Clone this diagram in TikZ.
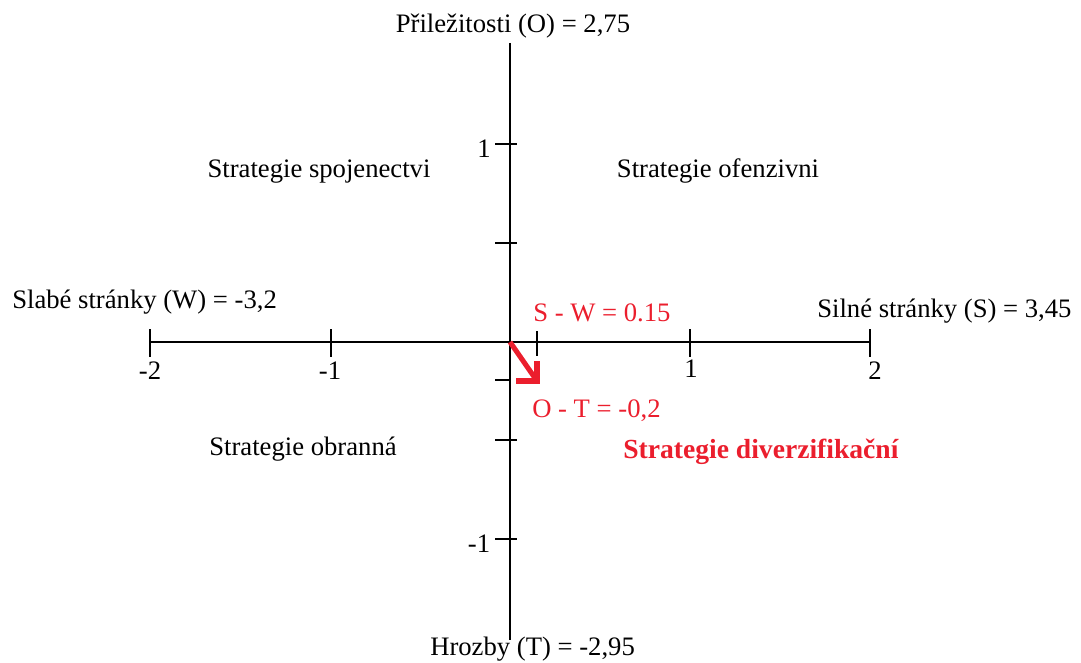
\documentclass[tikz,border=0pt]{standalone}
\usepackage{fontspec}
\setmainfont{Liberation Serif}
\definecolor{swotred}{RGB}{235,30,45}
\begin{document}
\begin{tikzpicture}[x=0.75pt,y=-0.75pt,
  axis/.style={line width=1.2pt, black},
  tickmark/.style={line width=1.2pt, black},
  lbl/.style={font=\fontsize{20}{24}\selectfont, inner sep=0pt, anchor=base},
  lblw/.style={lbl, anchor=base west},
  redlbl/.style={lblw, text=swotred},
  redbold/.style={lblw, text=swotred, font=\fontsize{20.7}{24}\selectfont\bfseries},
  redarrow/.style={line width=3.8pt, swotred, line join=miter}
]
\useasboundingbox (0,0) rectangle (1081,663);
% axes
\coordinate (O) at (510,342);
\coordinate (L) at (150,342);
\coordinate (R) at (870,342);
\coordinate (T) at (510,43);
\coordinate (B) at (510,640);
\draw[axis] (L) -- (R);
\draw[axis] (T) -- (B);
% x ticks
\foreach \x in {150,331,690,870}{
  \draw[tickmark] (\x,329) -- (\x,357);
}
% y ticks
\foreach \y in {144,243,440,539}{
  \draw[tickmark] (495,\y) -- (517,\y);
}
% markers for S-W and O-T
\draw[tickmark] (537,331) -- (537,356);
\draw[tickmark] (495,380) -- (510,380);
% red arrow
\coordinate (tip) at (537,381);
\coordinate (ah1) at (516,381);
\coordinate (ah2) at (537,361);
\draw[redarrow] (O) -- (tip);
\draw[redarrow] (ah1) -- (tip) -- (ah2);
% labels
\node[lbl] (olbl) at (513,33) {Přiležitosti (O) = 2,75};
\node[lbl] (q2) at (319,178) {Strategie spojenectvi};
\node[lbl] (q1) at (718,178) {Strategie ofenzivni};
\node[lblw] (wlbl) at (12,308) {Slabé stránky (W) = -3,2};
\node[lblw] (slbl) at (817,317) {Silné stránky (S) = 3,45};
\node[redlbl] (sw) at (533,321) {S - W = 0.15};
\node[lbl] (xm2) at (150,379) {-2};
\node[lbl] (xm1) at (330,379) {-1};
\node[lbl] (xp1) at (691,377) {1};
\node[lbl] (xp2) at (875,379) {2};
\node[redlbl] (ot) at (532,417) {O - T = -0,2};
\node[lbl] (q3) at (303,455) {Strategie obranná};
\node[redbold] (q4) at (623,458) {Strategie diverzifikační};
\node[lbl] (yp1) at (484,157) {1};
\node[lbl] (ym1) at (479,552) {-1};
\node[lblw] (tlbl) at (430,655) {Hrozby (T) = -2,95};
\end{tikzpicture}
\end{document}
